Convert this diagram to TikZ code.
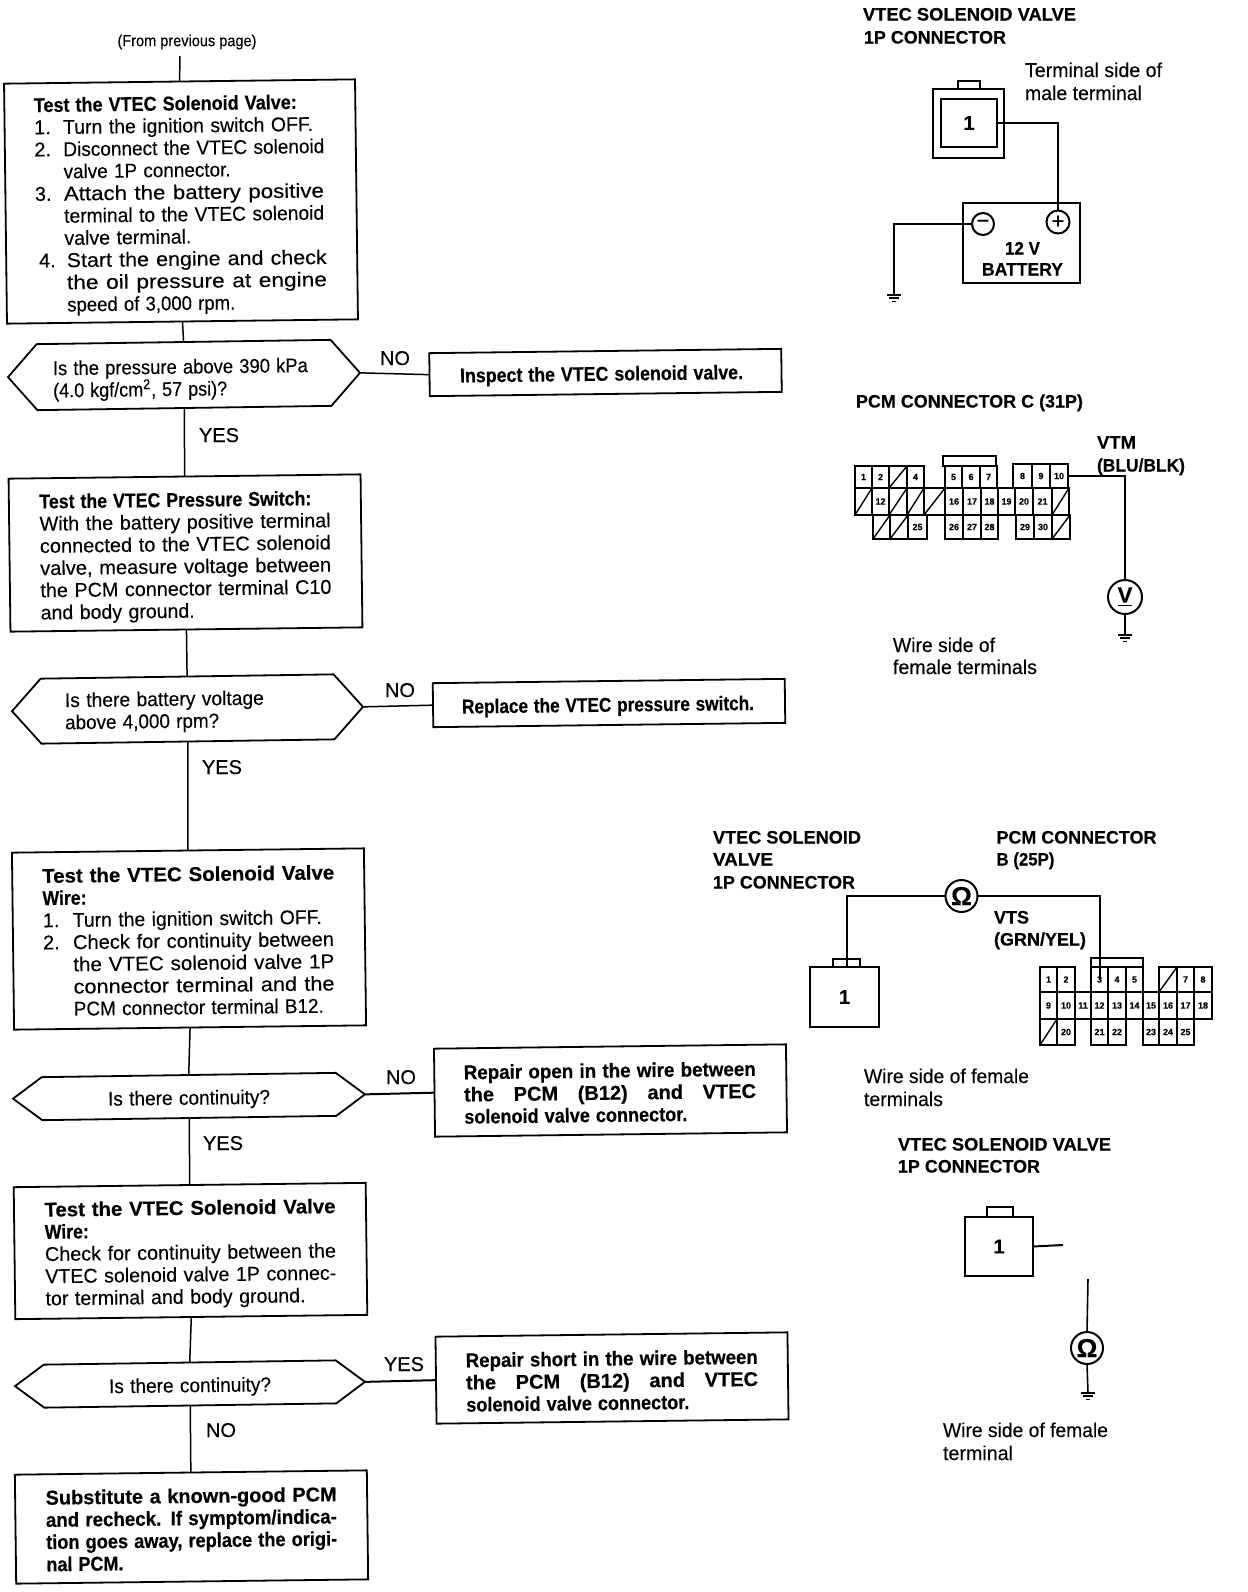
\documentclass[tikz,border=0pt]{standalone}
\usepackage{fontspec}
\usepackage{graphicx}
\setmainfont{Liberation Sans}[FakeBold=0.15,BoldFeatures={FakeBold=0.35}]
\usetikzlibrary{calc}
\newdimen\pxu \pxu=0.5pt
\newcommand\Fx[2]{\resizebox{#1\pxu}{\height}{#2}}
\newcommand\Sx[2]{\makebox[#1\pxu][s]{\spaceskip=.3em plus 1fil\relax #2}}
\newcommand\numl[3]{\makebox[#1\pxu][l]{#2}#3}
\newcommand\dn[1]{\rule{0pt}{\dimexpr7.3pt+#1\pxu\relax}}
\newcommand\hexout[1]{\draw[flow] (#1.west) -- ([xshift=14.5pt]#1.north west) -- ([xshift=-14.5pt]#1.north east) -- (#1.east) -- ([xshift=-14.5pt]#1.south east) -- ([xshift=14.5pt]#1.south west) -- cycle;}
\newcommand\gndsym[1]{%
  \draw[gnd] ([xshift=-3.6pt]#1) -- ([xshift=3.6pt]#1);
  \draw[gnd] ([xshift=-2.3pt,yshift=-1.6pt]#1) -- ([xshift=2.3pt,yshift=-1.6pt]#1);
  \draw[gnd] ([xshift=-1pt,yshift=-3.2pt]#1) -- ([xshift=1pt,yshift=-3.2pt]#1);}
\newcommand\tcl[6]{\node[cell,minimum width={(#3-#2)*0.5pt},minimum height={(#5-#4)*0.5pt}] (#1#6) at ({(#2+#3)/2},{(#4+#5)/2}) {#6};}
\newcommand\slc[5]{\node[cell,minimum width={(#3-#2)*0.5pt},minimum height={(#5-#4)*0.5pt}] (#1s#2) at ({(#2+#3)/2},{(#4+#5)/2}) {};
  \draw[line width=.7pt] (#1s#2.south west) -- (#1s#2.north east);}
\tikzset{
  txt/.style={font=\fontsize{10}{11.1}\selectfont},
  flow/.style={line width=.9pt,line join=miter},
  link/.style={line width=.75pt},
  wire/.style={line width=1pt,line join=miter},
  gnd/.style={line width=.8pt},
  fbox/.style={txt,draw,flow,rotate=.7,inner sep=0pt,outer sep=0pt,align=left},
  hexa/.style={txt,rotate=.7,inner sep=0pt,outer sep=0pt},
  lab/.style={txt,anchor=base west,inner sep=0pt,outer sep=0pt},
  ttl/.style={lab,font=\fontsize{9}{10}\selectfont\bfseries},
  cell/.style={draw,line width=.7pt,inner sep=0pt,outer sep=0pt,font=\fontsize{4.5}{5}\selectfont\bfseries},
  conn/.style={draw,wire,inner sep=0pt,outer sep=0pt,font=\fontsize{10}{11}\selectfont\bfseries},
  meter/.style={circle,draw,wire,inner sep=0pt,outer sep=0pt,font=\fontsize{11}{12}\selectfont\bfseries},
}
\begin{document}
\begin{tikzpicture}[x=0.5pt,y=-0.5pt]
\useasboundingbox (0,0) rectangle (1248,1592);
\fill[white] (0,0) rectangle (1248,1592);
% ---------- flow chart ----------
\node[txt,inner sep=0pt,font=\fontsize{8}{9}\selectfont] (from) at (187,42) {\Fx{139}{(From previous page)}};
\coordinate (ln0) at (180,56);
\node[fbox,minimum width=175.5pt,minimum height=120pt,text width=146pt] (b1) at (181,201.5) {\dn{7}%
\Fx{263}{\bfseries Test the VTEC Solenoid Valve:}\\
\numl{29}{1.}{\Fx{250}{Turn the ignition switch OFF.}}\\
\numl{29}{2.}{\Fx{261}{Disconnect the VTEC solenoid}}\\
\numl{29}{}{\Fx{167}{valve 1P connector.}}\\
\numl{29}{3.}{\Fx{260}{Attach the battery positive}}\\
\numl{29}{}{\Fx{260}{terminal to the VTEC solenoid}}\\
\numl{29}{}{\Fx{127}{valve terminal.}}\\
\numl{31}{\,4.}{\Fx{260}{Start the engine and check}}\\
\numl{31}{}{\Fx{260}{the oil pressure at engine}}\\
\numl{31}{}{\Fx{168}{speed of 3,000 rpm.}}};
\node[hexa,minimum width=176pt,minimum height=33pt,text width=131pt,align=left] (d1) at (184,375) {\dn{9}%
\Fx{255}{Is the pressure above 390 kPa}\\
\Fx{174}{(4.0 kgf/cm\textsuperscript{2}, 57 psi)?}};
\hexout{d1}
\node[fbox,minimum width=176pt,minimum height=21.5pt,text width=145.5pt] (r1) at (605.5,372.5) {\dn{6}\Fx{283}{\bfseries Inspect the VTEC solenoid valve.}};
\node[fbox,minimum width=176pt,minimum height=76.5pt,text width=145.5pt] (b2) at (185.5,553) {\dn{8}%
\Fx{272}{\bfseries Test the VTEC Pressure Switch:}\\
\Fx{291}{With the battery positive terminal}\\
\Fx{291}{connected to the VTEC solenoid}\\
\Fx{291}{valve, measure voltage between}\\
\Fx{291}{the PCM connector terminal C10}\\
\Fx{154}{and body ground.}};
\node[hexa,minimum width=175.5pt,minimum height=32.5pt,text width=122.5pt,align=left] (d2) at (187.5,709) {\dn{5}%
\Fx{199}{Is there battery voltage}\\
\Fx{154}{above 4,000 rpm?}};
\hexout{d2}
\node[fbox,minimum width=176pt,minimum height=22pt,text width=147pt] (r2) at (609,703) {\dn{7}\Fx{292}{\bfseries Replace the VTEC pressure switch.}};
\node[fbox,minimum width=176pt,minimum height=88.5pt,text width=146pt] (b3) at (189,939) {\dn{3}%
\Fx{292}{\bfseries Test the VTEC Solenoid Valve}\\
\Fx{44}{\bfseries Wire:}\\
\numl{30}{1.}{\Fx{249}{Turn the ignition switch OFF.}}\\
\numl{30}{2.}{\Fx{261}{Check for continuity between}}\\
\numl{30}{}{\Fx{261}{the VTEC solenoid valve 1P}}\\
\numl{30}{}{\Fx{261}{connector terminal and the}}\\
\numl{30}{}{\Fx{250}{PCM connector terminal B12.}}};
\node[hexa,minimum width=176pt,minimum height=21.5pt,text width=90pt,align=center] (d3) at (189,1096.5) {\dn{6}\Fx{162}{Is there continuity?}};
\hexout{d3}
\node[fbox,minimum width=176pt,minimum height=44pt,text width=146.5pt] (r3) at (610.5,1090.5) {\dn{4}%
\Fx{292}{\bfseries Repair open in the wire between}\\
\Sx{292}{\bfseries the PCM (B12) and VTEC}\\
\Fx{223}{\bfseries solenoid valve connector.}};
\node[fbox,minimum width=176pt,minimum height=66pt,text width=145.5pt] (b4) at (190.5,1251) {\dn{6}%
\Fx{291}{\bfseries Test the VTEC Solenoid Valve}\\
\Fx{44}{\bfseries Wire:}\\
\Fx{291}{Check for continuity between the}\\
\Fx{291}{VTEC solenoid valve 1P connec-}\\
\Fx{260}{tor terminal and body ground.}};
\node[hexa,minimum width=175pt,minimum height=21.5pt,text width=90pt,align=center] (d4) at (190,1384) {\dn{6}\Fx{162}{Is there continuity?}};
\hexout{d4}
\node[fbox,minimum width=176pt,minimum height=43.5pt,text width=146pt] (r4) at (612,1378) {\dn{5}%
\Fx{292}{\bfseries Repair short in the wire between}\\
\Sx{292}{\bfseries the PCM (B12) and VTEC}\\
\Fx{223}{\bfseries solenoid valve connector.}};
\node[fbox,minimum width=176pt,minimum height=54.5pt,text width=145.5pt] (b5) at (191.5,1527) {\dn{4}%
\Fx{291}{\bfseries Substitute a known-good PCM}\\
\Fx{291}{\bfseries and recheck. If symptom/indica-}\\
\Fx{291}{\bfseries tion goes away, replace the origi-}\\
\Fx{77}{\bfseries nal PCM.}};
% connectors
\draw[link] (ln0) -- (b1.north);
\draw[link] (b1.south) -- (d1.north);
\draw[link] (d1.east) -- (r1.west);
\draw[link] (d1.south) -- (b2.north);
\draw[link] (b2.south) -- (d2.north);
\draw[link] (d2.east) -- (r2.west);
\draw[link] (d2.south) -- (b3.north);
\draw[link] (b3.south) -- (d3.north);
\draw[link,line width=1pt] (d3.east) -- (r3.west);
\draw[link] (d3.south) -- (b4.north);
\draw[link] (b4.south) -- (d4.north);
\draw[link,line width=1pt] (d4.east) -- (r4.west);
\draw[link] (d4.south) -- (b5.north);
% branch labels
\node[lab] (no1) at (380,365) {NO};
\node[lab] (yes1) at (199,442) {YES};
\node[lab] (no2) at (385,697) {NO};
\node[lab] (yes2) at (202,774) {YES};
\node[lab] (no3) at (386,1084) {NO};
\node[lab] (yes3) at (203,1150) {YES};
\node[lab] (yes4) at (384,1371) {YES};
\node[lab] (no4) at (206,1437) {NO};
% ---------- top right : battery ----------
\node[ttl] (t1a) at (863,20.5) {\Fx{213}{VTEC SOLENOID VALVE}};
\node[ttl] (t1b) at (864,43.5) {\Fx{142}{1P CONNECTOR}};
\node[lab] (n1a) at (1025,77) {\Fx{137}{Terminal side of}};
\node[lab] (n1b) at (1025,100) {\Fx{117}{male terminal}};
\node[conn,line width=.7pt,minimum width=35.5pt,minimum height=34.5pt] (c1) at (968.5,123.5) {};
\node[conn,minimum width=28pt,minimum height=24pt] (c1i) at (969,123) {1};
\node[conn,line width=.8pt,minimum width=11pt,minimum height=4pt] (c1t) at (969,85) {};
\node[draw,wire,minimum width=58.5pt,minimum height=40pt,inner sep=0pt,outer sep=0pt] (bat) at (1021.5,243) {};
\node[meter,minimum size=11pt,font=\fontsize{11}{11}\selectfont] (bm) at (983,224) {−};
\node[meter,minimum size=11.5pt,font=\fontsize{11}{11}\selectfont] (bp) at (1058,222) {+};
\node[lab,font=\fontsize{9}{10}\selectfont\bfseries] (b12) at (1005,254.5) {\Fx{35}{12 V}};
\node[lab,font=\fontsize{9}{10}\selectfont\bfseries] (bbat) at (982,275.5) {\Fx{81}{BATTERY}};
\coordinate (g1) at (894,295);
\draw[wire] (c1i.east) -- (c1i.east -| bp) -- (bp.north);
\draw[wire] (bm.west) -| (g1);
\gndsym{g1}
% ---------- PCM connector C ----------
\node[ttl] (t2) at (856,407.5) {\Fx{227}{PCM CONNECTOR C (31P)}};
\node[ttl] (t2a) at (1097,448.5) {\Fx{39}{VTM}};
\node[ttl] (t2b) at (1097,471.5) {\Fx{88}{(BLU/BLK)}};
\draw[line width=.8pt] (943,466) rectangle (996,456);
\tcl{C}{855}{872}{466}{488}{1}\tcl{C}{872}{889}{466}{488}{2}\slc{C}{889}{907}{466}{488}\tcl{C}{907}{924}{466}{488}{4}
\tcl{C}{945}{962}{466}{488}{5}\tcl{C}{962}{980}{466}{488}{6}\tcl{C}{980}{997}{466}{488}{7}
\tcl{C}{1013}{1032}{464}{488}{8}\tcl{C}{1032}{1050}{464}{488}{9}\tcl{C}{1050}{1068}{464}{488}{10}
\slc{D}{855}{872}{488}{515}\tcl{C}{872}{889}{488}{515}{12}\slc{D}{889}{907}{488}{515}\slc{D}{907}{924}{488}{515}\slc{D}{924}{945}{488}{515}
\tcl{C}{945}{963}{488}{515}{16}\tcl{C}{963}{981}{488}{515}{17}\tcl{C}{981}{998}{488}{515}{18}\tcl{C}{998}{1015}{488}{515}{19}\tcl{C}{1015}{1033}{488}{515}{20}\tcl{C}{1033}{1052}{488}{515}{21}\slc{D}{1052}{1069}{488}{515}
\slc{E}{873}{890}{515}{539}\slc{E}{890}{908}{515}{539}\tcl{C}{908}{927}{515}{539}{25}
\tcl{C}{945}{963}{515}{539}{26}\tcl{C}{963}{981}{515}{539}{27}\tcl{C}{981}{998}{515}{539}{28}
\tcl{C}{1016}{1034}{515}{539}{29}\tcl{C}{1034}{1052}{515}{539}{30}\slc{E}{1052}{1070}{515}{539}
\draw[wire] (855,488) -- (1069,488);
\draw[wire] (855,515) -- (1069,515);
\node[meter,minimum size=17pt] (vm) at (1125,597) {\underline{V}};
\coordinate (g2) at (1125,635);
\draw[wire] (C10.east) -| (vm.north);
\draw[wire] (vm.south) -- (g2);
\gndsym{g2}
\node[lab] (n2a) at (893,652) {\Fx{102}{Wire side of}};
\node[lab] (n2b) at (893,674) {\Fx{144}{female terminals}};
% ---------- solenoid to PCM B ----------
\node[ttl] (t3a) at (713,843.5) {\Fx{148}{VTEC SOLENOID}};
\node[ttl] (t3b) at (713,865.5) {\Fx{60}{VALVE}};
\node[ttl] (t3c) at (713,888.5) {\Fx{142}{1P CONNECTOR}};
\node[ttl] (t3d) at (996.5,843.5) {\Fx{160}{PCM CONNECTOR}};
\node[ttl] (t3e) at (996.5,865.5) {\Fx{58}{B (25P)}};
\node[ttl] (t3f) at (994,923.5) {\Fx{35}{VTS}};
\node[ttl] (t3g) at (994,945.5) {\Fx{92}{(GRN/YEL)}};
\node[conn,minimum width=34.5pt,minimum height=30pt] (c2) at (844.5,997) {1};
\node[conn,line width=.8pt,minimum width=13.5pt,minimum height=4pt] (c2t) at (846.5,963) {};
\node[meter,minimum size=16pt,font=\fontsize{13}{14}\selectfont\bfseries] (om) at (961.5,896) {Ω};
\draw[line width=.8pt] (1091,967) rectangle (1143,958);
\tcl{B}{1040}{1057}{967}{992}{1}\tcl{B}{1057}{1075}{967}{992}{2}
\tcl{B}{1091}{1108}{967}{992}{3}\tcl{B}{1108}{1126}{967}{992}{4}\tcl{B}{1126}{1143}{967}{992}{5}
\slc{B}{1159}{1177}{967}{992}\tcl{B}{1177}{1194}{967}{992}{7}\tcl{B}{1194}{1212}{967}{992}{8}
\tcl{B}{1040}{1057}{992}{1019}{9}\tcl{B}{1057}{1075}{992}{1019}{10}\tcl{B}{1075}{1091}{992}{1019}{11}\tcl{B}{1091}{1108}{992}{1019}{12}\tcl{B}{1108}{1126}{992}{1019}{13}\tcl{B}{1126}{1143}{992}{1019}{14}\tcl{B}{1143}{1159}{992}{1019}{15}\tcl{B}{1159}{1177}{992}{1019}{16}\tcl{B}{1177}{1194}{992}{1019}{17}\tcl{B}{1194}{1212}{992}{1019}{18}
\slc{F}{1040}{1057}{1019}{1045}\tcl{B}{1057}{1075}{1019}{1045}{20}
\tcl{B}{1091}{1108}{1019}{1045}{21}\tcl{B}{1108}{1126}{1019}{1045}{22}
\tcl{B}{1143}{1159}{1019}{1045}{23}\tcl{B}{1159}{1177}{1019}{1045}{24}\tcl{B}{1177}{1194}{1019}{1045}{25}
\draw[wire] (1040,992) -- (1212,992);
\draw[wire] (c2t.south) |- (om.west);
\draw[wire] (om.east) -| (B3.center);
\node[lab] (n3a) at (864,1083) {\Fx{165}{Wire side of female}};
\node[lab] (n3b) at (864,1106) {\Fx{79}{terminals}};
% ---------- bottom right ----------
\node[ttl] (t4a) at (898,1150.5) {\Fx{213}{VTEC SOLENOID VALVE}};
\node[ttl] (t4b) at (898,1172.5) {\Fx{142}{1P CONNECTOR}};
\node[conn,minimum width=34pt,minimum height=29.5pt] (c3) at (999,1246.5) {1};
\node[conn,line width=.9pt,minimum width=13pt,minimum height=5pt] (c3t) at (1000,1212) {};
\coordinate (c3w) at (1063,1245);
\draw[wire] (c3.east) -- (c3w);
\coordinate (m3w) at (1088,1279);
\node[meter,minimum size=16pt,font=\fontsize{13}{14}\selectfont\bfseries] (om3) at (1087,1348) {Ω};
\coordinate (g3) at (1088,1393);
\draw[wire,line width=.8pt] (m3w) -- (om3.north);
\draw[wire,line width=.8pt] (om3.south) -- (g3);
\gndsym{g3}
\node[lab] (n4a) at (943,1437) {\Fx{165}{Wire side of female}};
\node[lab] (n4b) at (943,1460) {\Fx{70}{terminal}};
\end{tikzpicture}
\end{document}
